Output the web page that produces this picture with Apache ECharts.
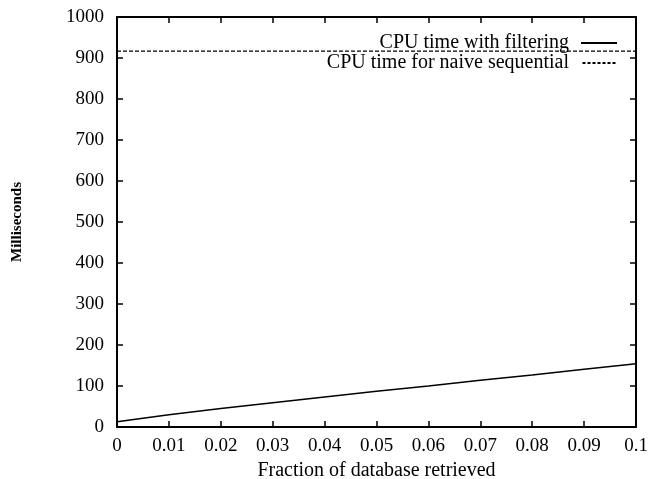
<!DOCTYPE html>
<html>
<head>
<meta charset="utf-8">
<script src="https://cdn.jsdelivr.net/npm/echarts@6/dist/echarts.min.js"></script>
<style>
  html, body { margin: 0; padding: 0; background: #fff; }
  #chart { width: 650px; height: 479px; }
</style>
</head>
<body>
<div id="chart"></div>
<script>
// fraction of database retrieved
var fractions = [0, 0.01, 0.02, 0.03, 0.04, 0.05, 0.06, 0.07, 0.08, 0.09, 0.1];
// CPU time (ms) with filtering
var filteringTimes = [13, 30, 45, 59, 73, 87, 100, 114, 127, 141, 154];
// CPU time (ms) for naive sequential, flat
var naiveTimes = [917, 917, 917, 917, 917, 917, 917, 917, 917, 917, 917];

var seriesNames = ['CPU time with filtering', 'CPU time for naive sequential'];

function pairs(xs, ys) {
    var res = [];
    for (var i = 0; i < xs.length; i++) {
        res.push([xs[i], ys[i]]);
    }
    return res;
}

var myChart = echarts.init(document.getElementById('chart'));

var font = 'Liberation Serif';
var axisLine = { show: true, onZero: false, lineStyle: { color: '#000', width: 2 } };
var axisTick = { show: true, inside: true, length: 6, lineStyle: { color: '#000', width: 1.5 } };

// legend samples: a solid bar and a dashed bar
var solidIcon = 'path://M0,0 L36,0 L36,2 L0,2 Z';
var dashedIcon = 'path://M0,0 L3,0 L3,2 L0,2 Z M5,0 L8,0 L8,2 L5,2 Z M10,0 L13,0 L13,2 L10,2 Z ' +
    'M15,0 L18,0 L18,2 L15,2 Z M20,0 L23,0 L23,2 L20,2 Z M25,0 L28,0 L28,2 L25,2 Z M30,0 L33,0 L33,2 L30,2 Z';

var option = {
    backgroundColor: '#fff',
    animation: false,
    textStyle: { fontFamily: font, color: '#000' },
    grid: { left: 117, right: 14, top: 17, bottom: 52, outerBoundsMode: 'none', containLabel: false },
    legend: {
        orient: 'vertical',
        right: 28,
        top: 28,
        padding: 5,
        align: 'right',
        itemWidth: 36,
        itemHeight: 2,
        itemGap: 0,
        textStyle: { fontFamily: font, fontSize: 20, lineHeight: 19, color: '#000', padding: [0, 7, 0, 0] },
        data: [
            { name: seriesNames[0], icon: solidIcon },
            { name: seriesNames[1], icon: dashedIcon }
        ]
    },
    xAxis: [{
        type: 'value',
        min: 0,
        max: 0.1,
        interval: 0.01,
        name: 'Fraction of database retrieved',
        nameLocation: 'middle',
        nameGap: 29,
        nameTextStyle: { fontFamily: font, fontSize: 20, color: '#000' },
        axisLine: axisLine,
        axisTick: axisTick,
        splitLine: { show: false },
        axisLabel: { fontFamily: font, fontSize: 19, color: '#000', margin: 10 }
    }, {
        type: 'value',
        position: 'top',
        min: 0,
        max: 0.1,
        interval: 0.01,
        axisLine: axisLine,
        axisTick: axisTick,
        splitLine: { show: false },
        axisLabel: { show: false }
    }],
    yAxis: [{
        type: 'value',
        min: 0,
        max: 1000,
        interval: 100,
        name: 'Milliseconds',
        nameLocation: 'middle',
        nameRotate: 90,
        nameGap: 92,
        nameTextStyle: { fontFamily: font, fontSize: 15, fontWeight: 'bold', color: '#000' },
        axisLine: axisLine,
        axisTick: axisTick,
        splitLine: { show: false },
        axisLabel: {
            fontFamily: font, fontSize: 19, color: '#000', margin: 13,
            formatter: function (v) { return String(v); }
        }
    }, {
        type: 'value',
        position: 'right',
        min: 0,
        max: 1000,
        interval: 100,
        axisLine: axisLine,
        axisTick: axisTick,
        splitLine: { show: false },
        axisLabel: { show: false }
    }],
    series: [{
        name: seriesNames[0],
        type: 'line',
        symbol: 'none',
        lineStyle: { color: '#000', width: 1.5 },
        itemStyle: { color: '#000' },
        data: pairs(fractions, filteringTimes)
    }, {
        name: seriesNames[1],
        type: 'line',
        symbol: 'none',
        lineStyle: { color: '#000', width: 1.2, type: [4, 2] },
        itemStyle: { color: '#000' },
        data: pairs(fractions, naiveTimes)
    }]
};

myChart.setOption(option);
window.addEventListener('resize', function () {
    myChart.resize();
});
</script>
</body>
</html>
